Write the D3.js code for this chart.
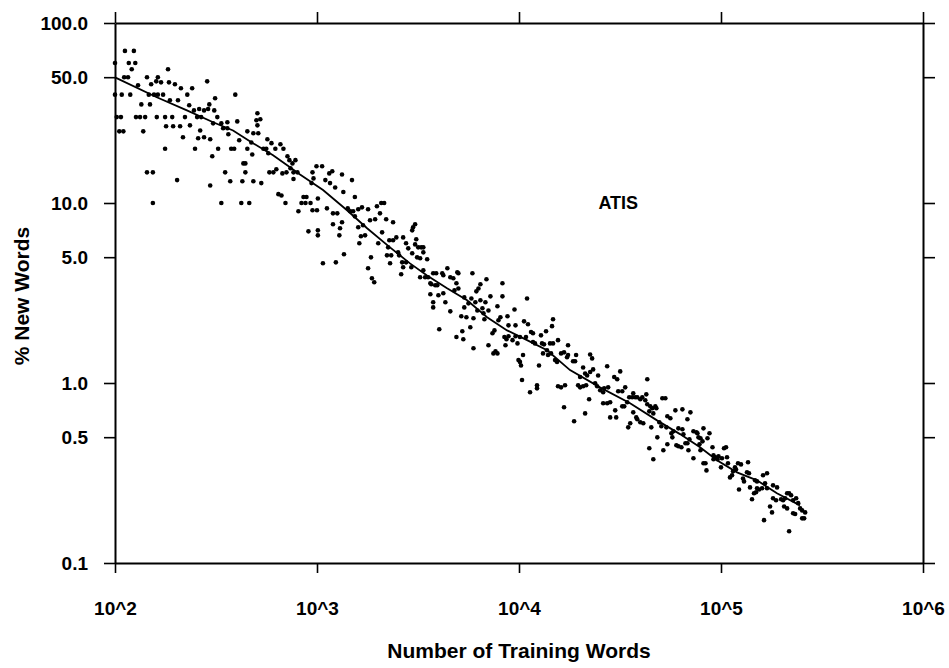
<!DOCTYPE html>
<html>
<head>
<meta charset="utf-8">
<script src="https://cdn.jsdelivr.net/npm/d3@7"></script>
<style>
body { margin: 0; background: #fff; }
svg { display: block; }
.axis text { font-family: "Liberation Sans", Arial, sans-serif; font-size: 19px; font-weight: bold; fill: #000; }
.axis path, .axis line { stroke: #000; }
.title { font-family: "Liberation Sans", Arial, sans-serif; font-size: 21px; font-weight: bold; fill: #000; }
</style>
</head>
<body>
<script>

var xTicks = [1e2, 1e3, 1e4, 1e5, 1e6];
var xTickLabels = ["10^2", "10^3", "10^4", "10^5", "10^6"];
var yTicks = [0.1, 0.5, 1, 5, 10, 50, 100];
var yTickLabels = ["0.1", "0.5", "1.0", "5.0", "10.0", "50.0", "100.0"];

// smoothed curve: [training words, % new words]
var curve = [
  [100, 49.9], [161, 38.7], [227, 32.7], [306, 28.1], [384, 25.3], [482, 21.5],
  [606, 18.4], [735, 15.8], [824, 14.4], [1071, 11.8], [1408, 9.11], [1770, 7.24],
  [2298, 5.67], [2886, 4.62], [3505, 3.96], [4404, 3.36], [5533, 2.88], [6950, 2.32],
  [8730, 1.96], [10960, 1.73], [13770, 1.52], [17890, 1.18], [25180, 0.946], [35480, 0.772],
  [48230, 0.62], [62660, 0.52], [78750, 0.44], [95500, 0.372], [120000, 0.319],
  [150700, 0.288], [189200, 0.244], [246000, 0.209]
];

// samples, 10^2 .. 10^3
var ptsA = [
  [100,60],[112,70],[124,70],[117,60],[126,60],[121,55.3],[111,50],[116,50],[130,45.1],[100,40],
  [108,40],[119,40],[102,30],[107,30],[105,25],[110,25],[135,35.3],[127,30],[133,30],[141,30],
  [138,25],[144,50],[151,45.7],[160,47.4],[163,50],[169,46.8],[183,55.3],[185,46.8],[198,45.7],[212,43.4],
  [241,43.4],[286,47.4],[147,40],[156,40],[163,40],[173,40],[149,35.3],[161,30],[177,30],[192,30],
  [187,37.2],[205,37.2],[179,26.7],[194,26.7],[210,26.7],[177,20],[144,14.8],[154,14.8],[154,10],[203,13.4],
  [217,23.2],[228,40],[233,34.9],[222,30],[235,27.0],[246,32.7],[261,33.3],[276,32.7],[289,33.3],[255,30],
  [267,30],[249,20],[264,25.3],[258,22.9],[276,23.2],[296,22.6],[293,35.3],[313,38.2],[310,32.7],[321,30],
  [306,27.7],[303,18.2],[296,12.5],[324,20],[336,10],[336,27.7],[360,28.1],[343,26.0],[360,26.0],[364,24.1],
  [351,14.8],[372,13.2],[376,20],[389,20],[394,40],[403,28.4],[412,22.3],[432,16.6],[442,16.6],[442,14.8],
  [427,13.2],[422,10],[462,10],[452,25],[452,20],[473,21.7],[478,18.6],[484,24.4],[512,24.4],[507,31.5],
  [501,28.8],[524,29.2],[507,27.0],[484,13.2],[530,12.9],[543,20],[561,20],[568,22.6],[574,18.9],[595,21.5],
  [622,20],[644,11.2],[667,11.0],[659,21.2],[682,20],[581,14.8],[608,14.8],[629,15.4],[674,14.6],[706,14.8],
  [698,10],[714,18.2],[730,17.3],[756,16.6],[782,17.3],[739,15.6],[765,14.8],[800,14.8],[765,13.6],[809,8.99],
  [950,14.8],[994,16.0],[961,13.7],[939,12.9],[857,10.8],[887,10.8],[838,10],[877,10],[929,10],[950,9.11],
  [1000,9.11],[1010,10.6],[907,6.96],[1010,7.05],[1010,6.61]
];

// samples, 10^3 .. 10^4
var ptsB = [
  [1060,16.0],[1100,13.4],[1160,12.9],[1150,14.6],[1190,15.0],[1230,12.2],[1330,14.4],[1490,13.4],[1350,11.5],[1540,10.8],
  [1120,9.34],[1200,8.76],[1260,8.76],[1330,7.82],[1300,7.24],[1200,7.62],[1290,6.61],[1070,4.63],[1240,4.68],[1360,5.19],
  [1420,9.34],[1460,8.99],[1510,8.99],[1600,9.23],[1670,9.46],[1540,8.43],[1600,7.33],[1690,7.52],[1650,6.53],[1730,6.61],
  [1620,5.97],[1790,9.23],[1830,8.02],[1940,8.12],[1980,9.59],[2080,10],[2150,10],[2050,8.76],[2200,8.12],[2100,6.87],
  [2010,5.97],[1850,4.99],[1790,4.34],[1870,3.82],[1920,3.63],[2380,7.82],[2280,6.21],[2380,6.21],[2470,6.44],[2250,5.67],
  [2220,5.12],[2330,5.12],[2300,4.63],[2520,5.32],[2550,5.12],[2670,6.44],[2760,5.97],[2830,5.60],[2640,4.68],[2760,4.68],
  [2670,4.40],[2610,4.02],[2960,7.05],[2990,7.33],[3060,7.62],[3100,6.29],[3060,5.89],[3170,5.67],[3280,5.67],[3360,5.67],
  [2960,5.26],[3130,4.99],[3240,4.93],[3360,5.32],[3510,4.87],[3360,4.23],[3240,3.87],[2930,4.40],[3430,3.87],[3550,3.87],
  [3640,3.58],[3680,3.54],[3760,4.07],[3890,4.07],[3850,3.49],[3940,3.49],[3640,3.11],[3990,3.07],[4220,3.15],[4170,4.07],
  [4220,3.97],[4420,4.34],[4570,3.87],[4730,3.82],[4950,4.12],[5010,4.07],[4790,3.27],[5010,3.35],[4900,3.58],[5360,2.99],
  [5880,4.07],[6150,3.23],[6300,3.35],[6440,3.54],[6900,3.77],[7220,3.03],[8280,3.58],[8280,3.03],[10960,2.95],[5810,2.95],
  [3760,2.81],[4320,2.81],[3760,2.63],[4570,2.50],[4030,1.99],[5180,2.35],[5490,2.32],[5950,2.29],[5360,2.63],[5620,2.77],
  [6080,2.81],[6440,2.88],[6820,2.81],[6220,2.53],[6590,2.60],[6670,2.44],[7060,2.53],[7820,2.67],[5740,2.04],[5240,1.94],
  [4900,1.80],[5300,1.75],[5950,1.56],[6740,2.26],[8090,2.32],[7910,2.23],[8770,2.35],[9500,2.56],[7560,1.96],[7390,1.89],
  [7060,1.62],[7470,1.46],[7820,1.46],[7650,1.50],[8870,2.09],[9610,2.09],[8470,1.80],[8670,1.75],[8870,1.82],[9290,1.73],
  [9610,1.82],[9830,1.66],[8570,1.62],[9940,1.34]
];

// samples, 10^4 .. 10^5
var ptsC = [
  [10590,2.20],[11080,2.12],[10110,1.80],[10830,1.80],[11470,1.92],[11730,1.89],[10470,1.43],[10110,1.31],[10230,1.25],[11730,1.69],
  [12000,1.66],[12850,1.84],[13610,1.94],[14570,2.07],[14740,2.26],[13000,1.66],[13300,1.64],[14240,1.66],[14740,1.66],[15600,1.73],
  [13760,1.52],[13150,1.46],[13920,1.43],[14410,1.46],[15080,1.34],[15430,1.31],[12560,1.25],[16150,1.46],[16710,1.48],[17290,1.39],
  [17490,1.43],[17490,1.62],[10350,1.04],[12280,0.971],[12280,0.934],[11340,0.888],[15600,0.959],[16150,0.946],[16900,0.971],[16710,0.733],
  [18520,1.32],[18950,1.32],[19170,1.43],[18740,0.613],[20770,1.22],[22500,1.44],[23010,1.37],[21250,1.13],[21740,1.10],[23280,1.19],
  [22500,1.15],[20070,1.08],[19620,0.971],[20070,0.946],[20770,0.959],[21500,0.971],[22240,0.812],[21250,0.678],[23820,0.996],[24370,0.959],
  [24650,1.10],[25220,0.911],[26100,0.888],[26400,0.934],[27320,1.24],[27630,0.946],[26100,0.772],[27320,0.772],[28270,0.782],[28270,0.644],
  [30280,0.644],[29600,1.08],[30630,1.05],[31700,1.16],[30980,0.899],[32440,0.899],[29940,0.705],[33560,0.946],[32440,0.742],[33190,0.742],
  [35130,0.833],[36350,0.833],[34340,0.782],[35530,0.597],[34730,0.567],[36780,0.876],[37630,0.833],[36780,0.687],[38500,0.833],[39850,0.812],
  [40760,0.833],[38060,0.644],[38500,0.629],[39850,0.605],[41230,0.597],[42680,0.865],[42190,0.802],[43160,1.05],[43160,0.762],[44670,0.742],
  [45700,0.724],[44160,0.696],[45180,0.567],[44160,0.434],[46230,0.377],[47300,0.742],[47850,0.724],[48390,0.499],[46230,0.678],[49510,0.605],
  [50660,0.575],[51240,0.822],[53030,0.822],[51830,0.423],[54250,0.653],[56150,0.637],[53640,0.567],[54250,0.457],[57440,0.499],[56790,0.526],
  [58100,0.539],[59450,0.705],[60130,0.451],[61520,0.445],[63670,0.440],[61520,0.560],[64400,0.553],[64400,0.714],[65140,0.519],[66650,0.463],
  [68190,0.463],[69770,0.487],[68190,0.629],[70570,0.687],[68980,0.423],[73030,0.382],[73030,0.539],[75580,0.532],[76450,0.526],[77330,0.499],
  [79130,0.493],[81880,0.560],[81000,0.474],[78220,0.457],[79130,0.423],[85710,0.493],[87690,0.526],[81880,0.358],[83770,0.358],[84740,0.327],
  [91800,0.397],[93920,0.387],[97200,0.392],[90760,0.440],[91800,0.377],[96090,0.377],[100000,0.340]
];

// samples, above 10^5
var ptsD = [
  [101100,0.382],[103500,0.434],[105900,0.440],[107100,0.387],[108300,0.358],[110800,0.299],[113400,0.307],[114700,0.323],[117300,0.340],[118700,0.331],
  [121400,0.358],[125600,0.353],[122800,0.256],[128500,0.295],[130000,0.284],[134500,0.319],[137600,0.315],[136100,0.363],[139200,0.263],[142400,0.226],
  [145700,0.244],[149100,0.247],[150800,0.260],[154300,0.256],[159700,0.260],[147400,0.288],[150800,0.284],[161500,0.307],[169000,0.315],[165200,0.277],
  [169000,0.260],[174900,0.206],[178900,0.191],[163300,0.173],[181000,0.229],[187300,0.223],[181000,0.270],[189500,0.263],[198400,0.226],[203000,0.223],
  [207700,0.229],[212500,0.244],[217400,0.244],[222400,0.238],[205300,0.206],[212500,0.201],[217400,0.150],[227500,0.223],[235500,0.229],[241000,0.215],
  [227500,0.189],[232800,0.187],[246500,0.201],[252200,0.196],[261000,0.191],[252200,0.177],[258000,0.177]
];

var samples = ptsA.concat(ptsB, ptsC, ptsD);

var margin = {top: 23, right: 26, bottom: 105, left: 115},
    width = 949 - margin.left - margin.right,
    height = 668 - margin.top - margin.bottom;

var x = d3.scaleLog().domain([1e2, 1e6]).range([0, width]);
var y = d3.scaleLog().domain([0.1, 100]).range([height, 0]);

var svg = d3.select("body").append("svg")
    .attr("width", 949)
    .attr("height", 668);

var g = svg.append("g")
    .attr("transform", "translate(" + margin.left + "," + margin.top + ")");

// frame axes
g.append("g")
    .attr("class", "x axis")
    .attr("transform", "translate(0," + height + ")")
    .call(d3.axisBottom(x).tickValues(xTicks)
      .tickFormat(function(d, i) { return xTickLabels[i]; })
      .tickSizeInner(10).tickSizeOuter(0).tickPadding(29));

g.append("g")
    .attr("class", "axis")
    .call(d3.axisTop(x).tickValues(xTicks).tickFormat("")
      .tickSizeInner(11).tickSizeOuter(0));

g.append("g")
    .attr("class", "y axis")
    .call(d3.axisLeft(y).tickValues(yTicks)
      .tickFormat(function(d, i) { return yTickLabels[i]; })
      .tickSizeInner(11).tickSizeOuter(0).tickPadding(16));

g.append("g")
    .attr("class", "axis")
    .attr("transform", "translate(" + width + ",0)")
    .call(d3.axisRight(y).tickValues(yTicks).tickFormat("")
      .tickSizeInner(12).tickSizeOuter(0));

g.selectAll(".axis path").attr("stroke-width", 2);
g.selectAll(".axis line").attr("stroke-width", 1.6);

// fitted curve
g.append("path")
    .datum(curve)
    .attr("fill", "none")
    .attr("stroke", "#000")
    .attr("stroke-width", 1.8)
    .attr("d", d3.line()
      .x(function(d) { return x(d[0]); })
      .y(function(d) { return y(d[1]); }));

g.selectAll(".dot")
    .data(samples)
  .enter().append("circle")
    .attr("class", "dot")
    .attr("cx", function(d) { return x(d[0]); })
    .attr("cy", function(d) { return y(d[1]); })
    .attr("r", 2.3)
    .attr("fill", "#000");

g.append("text")
    .attr("class", "title")
    .attr("x", x(3.1e4))
    .attr("y", y(10))
    .attr("dy", ".35em")
    .style("text-anchor", "middle")
    .style("font-size", "18px")
    .text("ATIS");

svg.append("text")
    .attr("class", "title")
    .attr("x", margin.left + width / 2)
    .attr("y", 658)
    .style("text-anchor", "middle")
    .text("Number of Training Words");

svg.append("text")
    .attr("class", "title")
    .attr("transform", "translate(29," + (margin.top + height / 2 + 3) + ") rotate(-90)")
    .style("text-anchor", "middle")
    .text("% New Words");

</script>
</body>
</html>
